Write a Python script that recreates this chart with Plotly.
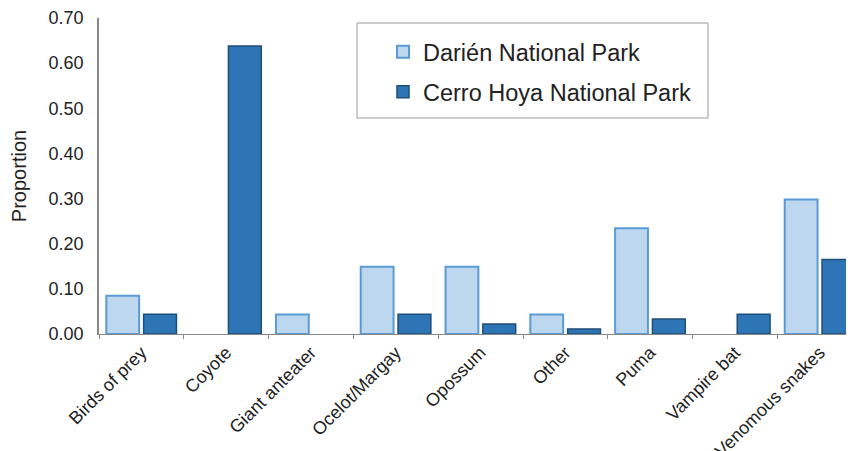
import plotly.graph_objects as go

categories = ["Birds of prey", "Coyote", "Giant anteater", "Ocelot/Margay", "Opossum",
              "Other", "Puma", "Vampire bat", "Venomous snakes"]
darien = [0.085, 0.0, 0.043, 0.149, 0.149, 0.043, 0.234, 0.0, 0.298]
cerro_hoya = [0.044, 0.638, 0.0, 0.044, 0.022, 0.011, 0.033, 0.044, 0.165]
y_ticks = [0.0, 0.1, 0.2, 0.3, 0.4, 0.5, 0.6, 0.7]

# page body has an 8px margin, so the figure is offset by 8px
OFF = 8
W, H = 854 - OFF, 451 - OFF
ML, MT = 99 - OFF, 18 - OFF
MB = H - (334 - OFF)
pw = W - ML
ph = H - MT - MB
cat_px = 84.8

fig = go.Figure()
fig.add_trace(go.Bar(
    x=categories, y=darien, name="Darién National Park", legend="legend",
    marker=dict(color="#bdd7ee", line=dict(color="#5b9bd5",
                                           width=[2 if v > 0 else 0 for v in darien])),
))
fig.add_trace(go.Bar(
    x=categories, y=cerro_hoya, name="Cerro Hoya National Park", legend="legend2",
    marker=dict(color="#2e75b6", line=dict(color="#1f4e79",
                                           width=[1.5 if v > 0 else 0 for v in cerro_hoya])),
))

def px_x(ax):
    return (ax - OFF - ML) / pw

def px_y(ay):
    return 1 - (ay - OFF - MT) / ph

fig.add_shape(type="rect", xref="paper", yref="paper",
              x0=px_x(357), x1=px_x(708), y0=px_y(118), y1=px_y(23),
              line=dict(color="#999999", width=1), fillcolor="white", layer="below")

leg_common = dict(xanchor="left", yanchor="middle", bgcolor="rgba(0,0,0,0)", borderwidth=0,
                  font=dict(size=23.5, color="#222222"))

fig.update_layout(
    width=W, height=H,
    margin=dict(l=ML, r=0, t=MT, b=MB, autoexpand=False),
    paper_bgcolor="white", plot_bgcolor="white",
    font=dict(family="Liberation Sans, Arial, sans-serif", color="#222222"),
    barmode="group", bargap=0.12, bargroupgap=0.12,
    showlegend=True,
    legend=dict(x=px_x(383), y=px_y(52), **leg_common),
    legend2=dict(x=px_x(383), y=px_y(92), **leg_common),
    xaxis=dict(
        range=[-0.5, -0.5 + pw / cat_px], automargin=False,
        showline=True, linecolor="#888888", linewidth=1,
        ticks="outside", tickson="boundaries", ticklen=4, tickcolor="#888888",
        tickangle=-45, tickfont=dict(size=18, color="#222222"),
        showgrid=False, zeroline=False,
    ),
    yaxis=dict(
        range=[0, 0.7], tickvals=y_ticks, tickformat=".2f", automargin=False,
        showline=True, linecolor="#888888", linewidth=1.5,
        ticks="", tickfont=dict(size=18, color="#222222"), ticklabelstandoff=10,
        showgrid=False, zeroline=False,
        title=dict(text="Proportion", font=dict(size=20, color="#222222"), standoff=18),
    ),
)

fig.write_html("out.html")
